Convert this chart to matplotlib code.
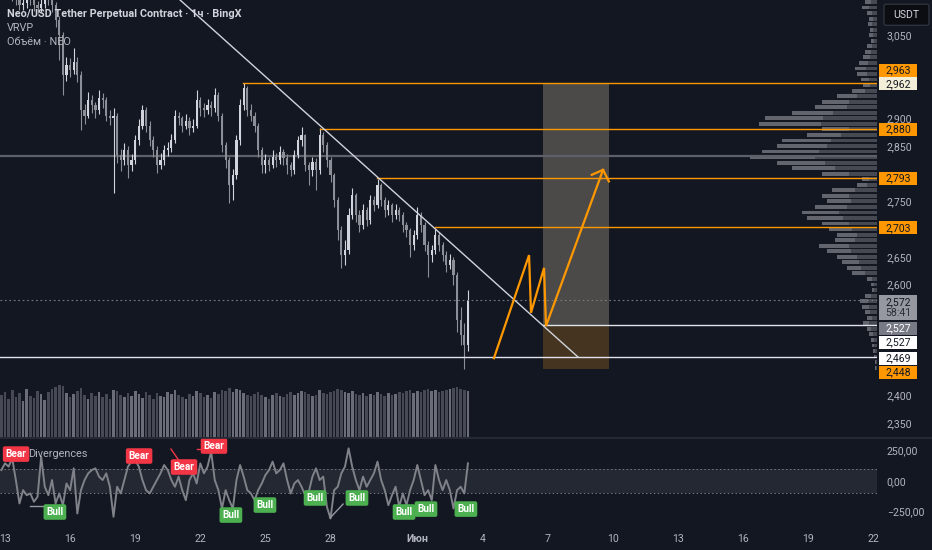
import numpy as np
import matplotlib
matplotlib.use("Agg")
import matplotlib.pyplot as plt
from matplotlib.patches import Rectangle, FancyBboxPatch
from matplotlib.ticker import FuncFormatter

plt.rcParams["font.family"] = ["Roboto", "DejaVu Sans"]

# --------------------------------------------------------------------------
# Data. Time in days since 13 May 00:00, 4h bars.
# --------------------------------------------------------------------------
closes = [3140, 3135, 3130, 3125, 3120, 3104, 3108, 3120, 3115, 3104,
          3099, 3106, 3118, 3115, 3104, 3077, 3050, 2978, 2996, 2987,
          3001, 2978, 2915, 2905, 2933, 2924, 2915, 2936, 2933, 2905,
          2900, 2905, 2833, 2824, 2842, 2815, 2824, 2860, 2887, 2915,
          2887, 2860, 2842, 2815, 2824, 2842, 2846, 2860, 2905, 2900,
          2887, 2896, 2882, 2887, 2933, 2918, 2915, 2924, 2918, 2942,
          2905, 2851, 2824, 2779, 2797, 2860, 2924, 2954, 2915, 2905,
          2887, 2842, 2815, 2824, 2815, 2830, 2824, 2839, 2828, 2815,
          2806, 2833, 2860, 2869, 2815, 2806, 2821, 2806, 2869, 2851,
          2824, 2797, 2752, 2698, 2653, 2662, 2725, 2761, 2725, 2707,
          2734, 2716, 2752, 2743, 2779, 2752, 2734, 2743, 2725, 2734,
          2725, 2707, 2698, 2671, 2689, 2725, 2707, 2671, 2653, 2662,
          2689, 2671, 2653, 2635, 2644, 2617, 2536, 2508, 2490, 2572]
highs = [3165, 3150, 3145, 3140, 3135, 3128, 3120, 3132, 3130, 3122,
         3112, 3118, 3130, 3128, 3120, 3110, 3085, 3055, 3010, 3008,
         3026, 3010, 2985, 2925, 2947, 2942, 2930, 2951, 2945, 2938,
         2915, 2918, 2910, 2845, 2855, 2850, 2835, 2870, 2898, 2924,
         2920, 2895, 2868, 2850, 2838, 2852, 2858, 2872, 2915, 2912,
         2905, 2908, 2902, 2898, 2951, 2938, 2928, 2935, 2932, 2955,
         2948, 2910, 2858, 2830, 2808, 2870, 2935, 2963, 2958, 2925,
         2912, 2892, 2848, 2835, 2830, 2842, 2838, 2850, 2845, 2835,
         2822, 2842, 2868, 2884, 2872, 2822, 2830, 2828, 2882, 2875,
         2858, 2830, 2802, 2758, 2705, 2680, 2738, 2774, 2765, 2735,
         2745, 2740, 2762, 2760, 2790, 2784, 2758, 2752, 2748, 2745,
         2740, 2730, 2712, 2702, 2698, 2739, 2730, 2712, 2678, 2672,
         2701, 2694, 2676, 2660, 2655, 2650, 2622, 2560, 2530, 2590]
lows = [3130, 3125, 3120, 3112, 3105, 3095, 3096, 3100, 3105, 3094,
        3090, 3092, 3100, 3104, 3092, 3065, 3005, 2942, 2968, 2975,
        2980, 2965, 2878, 2890, 2900, 2910, 2900, 2908, 2918, 2895,
        2888, 2765, 2820, 2805, 2815, 2793, 2805, 2818, 2852, 2880,
        2875, 2850, 2830, 2801, 2808, 2815, 2832, 2840, 2855, 2888,
        2875, 2880, 2870, 2875, 2882, 2905, 2902, 2908, 2905, 2912,
        2895, 2840, 2810, 2748, 2752, 2790, 2852, 2915, 2905, 2895,
        2875, 2830, 2801, 2801, 2805, 2810, 2812, 2818, 2815, 2800,
        2795, 2800, 2828, 2850, 2805, 2779, 2795, 2770, 2800, 2840,
        2812, 2785, 2740, 2680, 2629, 2635, 2655, 2718, 2712, 2695,
        2700, 2705, 2710, 2732, 2738, 2742, 2722, 2726, 2712, 2718,
        2714, 2695, 2685, 2649, 2662, 2682, 2695, 2660, 2613, 2640,
        2655, 2660, 2642, 2622, 2628, 2600, 2515, 2490, 2448, 2480]
first_open = 3150

volumes = [420, 450, 380, 470, 400, 440, 360, 480, 410, 390,
           460, 430, 370, 450, 480, 500, 520, 510, 440, 400,
           430, 460, 490, 420, 380, 440, 410, 450, 400, 430,
           380, 470, 460, 420, 400, 440, 410, 460, 430, 390,
           450, 420, 380, 440, 410, 400, 450, 430, 470, 420,
           400, 380, 430, 410, 460, 440, 400, 420, 390, 450,
           430, 470, 460, 490, 450, 480, 470, 440, 420, 410,
           430, 450, 420, 400, 380, 420, 440, 410, 400, 430,
           450, 420, 440, 460, 450, 430, 410, 420, 470, 440,
           430, 450, 460, 480, 470, 450, 440, 460, 430, 420,
           440, 410, 430, 420, 450, 430, 410, 440, 420, 430,
           450, 440, 460, 470, 440, 460, 450, 470, 480, 460,
           470, 450, 460, 470, 480, 490, 500, 480, 470, 460]

rsi_div = [90, 145, 118, 186, 8, -184, -75, -116, -102, -170,
           -129, 200, -47, -116, 8, -184, -102, -198, -20, -75,
           104, -266, -75, 8, 63, 90, 104, 36, 8, 63,
           -47, -293, -47, -102, 8, 118, 159, 173, 118, 8,
           -75, -102, -47, 8, 63, 131, 90, 8, -47, 36,
           -75, -157, 8, 63, -20, 145, 63, 118, 241, 8,
           -75, -225, -75, -157, -225, 8, 131, 36, -75, -102,
           -157, -75, -20, 49, 90, 159, 63, 90, 145, 8,
           -102, -20, 8, -47, -116, -88, 36, 104, 8, 36,
           -211, -307, -75, -47, 63, 118, 268, 118, 8, -75,
           36, -47, 8, 63, 159, 8, -75, -198, -116, -47,
           -211, -102, -198, -75, 8, 131, 8, -116, -75, -157,
           131, 8, -75, 8, -75, -225, -75, -47, -102, 145]

# Visible range volume profile (price level -> volume, total and inner part)
vp_levels = np.arange(2450, 3111, 10)
vp_total = [2, 2, 3, 4, 5, 6, 8, 10, 14, 10,
            12, 15, 17, 12, 5, 6, 10, 25, 30, 35,
            40, 50, 58, 42, 40, 48, 55, 70, 75, 62,
            50, 55, 45, 20, 15, 55, 85, 100, 127, 115,
            100, 95, 70, 55, 118, 112, 85, 62, 55, 40,
            25, 14, 16, 20, 22, 18, 14, 12, 10, 6,
            8, 7, 9, 8, 10, 15, 12]
vp_inner = [1, 1, 2, 2, 3, 3, 4, 6, 8, 5,
            7, 8, 9, 6, 3, 3, 5, 12, 16, 18,
            20, 26, 28, 22, 20, 25, 28, 34, 38, 30,
            26, 28, 22, 10, 8, 28, 42, 52, 62, 58,
            50, 46, 36, 28, 56, 54, 44, 30, 28, 20,
            12, 7, 8, 10, 11, 9, 7, 6, 5, 3,
            4, 4, 5, 4, 5, 8, 6]
poc_price = 2832

# Drawings
resist_levels = [2963, 2880, 2793, 2703]
resist_start = [10.97, 14.52, 17.14, 19.82]
support_price = 2469
entry_price, stop_price, target_price = 2527, 2448, 2962
pos_start, pos_end = 24.79, 27.83
trend_d = [7.6, 26.41]
trend_p = [3130, 2469]
path_d = [22.53, 24.15, 24.24, 24.84, 24.93, 27.56]
path_p = [2467, 2653, 2549, 2630, 2525, 2807]
barb_d = [27.04, 27.56, 27.83]
barb_p = [2798, 2807, 2786]
last_price = 2572

# Right-axis labels: (text, display centre price, face, text colour)
price_tags = [("2,963", 2987, "#ff9800", "#131722"),
              ("2,962", 2962, "#f2eed8", "#131722"),
              ("2,880", 2880.5, "#ff9800", "#131722"),
              ("2,793", 2792, "#ff9800", "#131722"),
              ("2,703", 2702, "#ff9800", "#131722"),
              ("2,527", 2521, "#787b86", "#ffffff"),
              ("2,527", 2496, "#ffffff", "#131722"),
              ("2,469", 2467, "#ffffff", "#131722"),
              ("2,448", 2441, "#ff9800", "#131722")]
price_ticks = [2350, 2400, 2600, 2650, 2750, 2850, 2900, 3050]

# Divergence labels
div_labels = [("Bear", 0.51, 221), ("Bear", 6.18, 205), ("Bear", 8.25, 115),
              ("Bear", 9.63, 287),
              ("Bull", 2.30, -254), ("Bull", 10.41, -279), ("Bull", 11.98, -197),
              ("Bull", 14.29, -139), ("Bull", 16.22, -139), ("Bull", 18.39, -254),
              ("Bull", 19.40, -230), ("Bull", 21.24, -230)]

day_ticks = [0, 3, 6, 9, 12, 15, 19, 22, 25, 28, 31, 34, 37, 40]
day_labels = ["13", "16", "19", "22", "25", "28", "Июн", "4", "7", "10",
              "13", "16", "19", "22"]

# --------------------------------------------------------------------------
# Layout
# --------------------------------------------------------------------------
BG = "#131722"
TXT = "#b2b5be"
ORANGE = "#ff9800"
W, H = 932, 550
PX_DAY = 21.7
XLIM = (-5 / PX_DAY, (877 - 5) / PX_DAY)
YLIM = (2350 - 14 / 0.554, 2350 + 423 / 0.554)

fig = plt.figure(figsize=(W / 100, H / 100), dpi=100, facecolor=BG)
ax = fig.add_axes([0, 1 - 437 / H, 877 / W, 437 / H], facecolor=BG)
axv = fig.add_axes([0, 1 - 437 / H, 877 / W, 60 / H])
axi = fig.add_axes([0, 1 - 522 / H, 877 / W, 85 / H], facecolor=BG)
axr = fig.add_axes([877 / W, 1 - 437 / H, 55 / W, 437 / H])

n = len(closes)
t = -1 / 6 + np.arange(n) / 6
opens = [first_open] + closes[:-1]

# --- volume (behind candles) ---
axv.set_zorder(0)
ax.set_zorder(1)
axr.set_zorder(2)
ax.patch.set_visible(False)
vol_col = ["#6b6e78" if c >= o else "#474a54" for o, c in zip(opens, closes)]
axv.bar(t, volumes, width=0.12, color=vol_col, linewidth=0)
axv.set_xlim(XLIM)
axv.set_ylim(0, 600)
axv.axis("off")

# --- long position box ---
ax.add_patch(Rectangle((pos_start, entry_price), pos_end - pos_start,
                       target_price - entry_price, color="#4b4a48", lw=0,
                       zorder=1))
ax.add_patch(Rectangle((pos_start, stop_price), pos_end - pos_start,
                       entry_price - stop_price, color="#45341f", lw=0,
                       zorder=1))

# --- volume profile ---
vp_w = np.array(vp_total) / PX_DAY
vp_in = np.array(vp_inner) / PX_DAY
ax.barh(vp_levels, vp_w, left=XLIM[1] - vp_w, height=7, color="#62656e",
        lw=0, zorder=2)
ax.barh(vp_levels, vp_in, left=XLIM[1] - vp_in, height=7, color="#464952",
        lw=0, zorder=2)
ax.axhline(poc_price, color="#5d6069", lw=1.6, zorder=2)

# --- candles ---
up = [c >= o for o, c in zip(opens, closes)]
cols = ["#d1d4dc" if u else "#8c8f98" for u in up]
ax.vlines(t, lows, highs, colors=cols, lw=0.8, zorder=3)
body_lo = np.minimum(opens, closes)
body_h = np.maximum(np.abs(np.array(closes) - np.array(opens)), 2)
ax.bar(t, body_h, bottom=body_lo, width=0.1, color=cols, lw=0, zorder=3)

# --- levels & drawings ---
for lvl, st in zip(resist_levels, resist_start):
    ax.plot([st, XLIM[1]], [lvl, lvl], color=ORANGE, lw=1.0, zorder=4)
ax.axhline(support_price, color="#e0e3eb", lw=1.0, zorder=4)
ax.plot([pos_start, XLIM[1]], [entry_price, entry_price], color="#e0e3eb",
        lw=1.0, zorder=4)
ax.axhline(last_price, color="#787b86", lw=0.8, ls=(0, (1.5, 2.5)), zorder=4)
ax.plot(trend_d, trend_p, color="#d1d4dc", lw=1.0, zorder=5)
ax.plot(path_d, path_p, color=ORANGE, lw=1.6, zorder=6,
        solid_joinstyle="miter")
ax.plot(barb_d, barb_p, color=ORANGE, lw=1.6, zorder=6)

ax.set_xlim(XLIM)
ax.set_ylim(YLIM)
for s in ax.spines.values():
    s.set_visible(False)
ax.set_xticks([])
ax.yaxis.tick_right()
ax.set_yticks(price_ticks)
ax.yaxis.set_major_formatter(FuncFormatter(lambda v, _: f"{int(v):,}"))
ax.tick_params(axis="y", length=0, pad=7, labelsize=7.6, labelcolor=TXT)

# legend texts
ax.text(7 / 877, 1 - 14 / 437, "Neo/USD Tether Perpetual Contract · 1ч · BingX",
        transform=ax.transAxes, fontsize=7.8, color="#d1d4dc",
        fontweight="bold", va="center", zorder=7)
ax.text(7 / 877, 1 - 28 / 437, "VRVP", transform=ax.transAxes, fontsize=7.8,
        color=TXT, va="center", zorder=7)
ax.text(7 / 877, 1 - 42 / 437, "Объём · NEO", transform=ax.transAxes,
        fontsize=7.8, color=TXT, va="center", zorder=7)

# --- right price-tag column ---
axr.set_xlim(877, 932)
axr.set_ylim(YLIM)
axr.axis("off")
tag_h = 13 / 0.554
for txt, yc, fc, tc in price_tags:
    axr.add_patch(Rectangle((879, yc - tag_h / 2), 38, tag_h, fc=fc, ec="none"))
    axr.text(898, yc, txt, ha="center", va="center", fontsize=7.6, color=tc)
cur_h = 25 / 0.554
cur_c = 2558.5
axr.add_patch(Rectangle((879, cur_c - cur_h / 2), 38, cur_h, fc="#9598a1",
                        ec="none"))
axr.text(898, cur_c + 5.5 / 0.554, f"{last_price:,}", ha="center",
         va="center", fontsize=7.6, color="#131722")
axr.text(898, cur_c - 6 / 0.554, "58:41", ha="center", va="center",
         fontsize=7.6, color="#2a2e39")
axr.add_patch(FancyBboxPatch((884, 3068), 45, 38,
                             boxstyle="round,pad=0,rounding_size=2",
                             fc="#0b0d12", ec="#363a45", lw=0.8,
                             mutation_aspect=1 / 0.554))
axr.text(906, 3087, "USDT", ha="center", va="center", fontsize=7.6,
         color="#d1d4dc")

# --- indicator pane ---
axi.axhspan(-98, 98, color="#2a2e39", alpha=0.75, lw=0)
axi.axhline(98, color="#787b86", lw=0.7, ls=(0, (1.5, 2.5)))
axi.axhline(-98, color="#787b86", lw=0.7, ls=(0, (1.5, 2.5)))
axi.plot(t, rsi_div, color="#808289", lw=1.4, zorder=3)
# divergence connector lines
axi.plot([1.15, 1.75], [-205, -205], color="#9598a1", lw=1.0, zorder=3)
axi.plot([14.98, 15.58], [-303, -189], color="#9598a1", lw=1.0, zorder=3)
axi.plot([7.65, 7.97], [262, 180], color="#f23645", lw=1.0, zorder=3)
axi.plot([8.85, 9.05], [262, 262], color="#f23645", lw=1.0, zorder=3)
axi.text(1.05, 225, "Divergences", fontsize=7.8, color=TXT, va="center",
         zorder=4)
for lab, d, v in div_labels:
    fc = "#f23645" if lab == "Bear" else "#4caf50"
    axi.text(d, v, lab, ha="center", va="center", fontsize=7.2, color="white",
             fontweight="bold", zorder=5,
             bbox=dict(boxstyle="round,pad=0.28,rounding_size=0.2", fc=fc,
                       ec="none"))
axi.set_xlim(XLIM)
axi.set_ylim(-336, 361)
for s in axi.spines.values():
    s.set_visible(False)
axi.yaxis.tick_right()
axi.set_yticks([-250, 0, 250])
axi.set_yticklabels(["−250,00", "0,00", "250,00"])
axi.tick_params(axis="y", length=0, pad=7, labelsize=7.6, labelcolor=TXT)
axi.set_xticks(day_ticks)
axi.set_xticklabels(day_labels)
axi.tick_params(axis="x", length=0, pad=9, labelsize=7.6, labelcolor=TXT)
axi.get_xticklabels()[6].set_fontweight("bold")

# pane separator
fig.add_artist(plt.Line2D([0, 1], [1 - 437.5 / H, 1 - 437.5 / H],
                          transform=fig.transFigure, color="#2a2e39", lw=1.2))

fig.savefig("out.png", dpi=100, facecolor=BG)
